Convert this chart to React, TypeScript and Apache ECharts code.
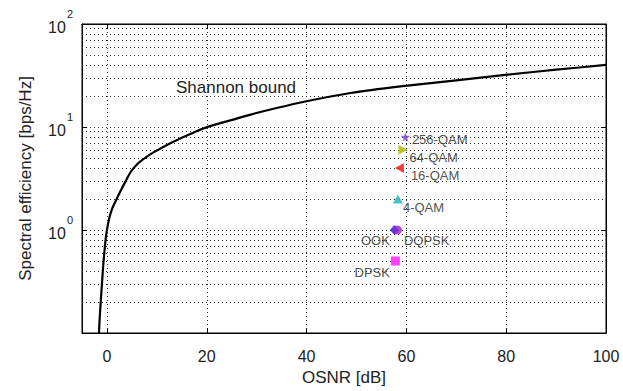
import React, { useEffect, useRef } from "react";
import * as echarts from "echarts";

// Shannon bound curve: OSNR [dB] vs spectral efficiency [bps/Hz]
const osnrDb = [-1.6, -1.45, -1.25, -1.0, -0.8, -0.6, -0.3, 0, 0.5, 1.1, 1.9, 2.8, 3.7, 4.8, 6.3, 7.8, 9.4, 11.1, 13, 15.1, 17.4, 19.8, 24, 28.8, 34, 40, 48.8, 58.8, 70, 79.8, 90, 100];
const spectralEff = [0.1, 0.14, 0.2, 0.3, 0.42, 0.55, 0.78, 1.0, 1.32, 1.64, 1.98, 2.43, 2.95, 3.68, 4.47, 5.08, 5.7, 6.32, 7.06, 7.91, 8.86, 9.87, 11.35, 13.2, 15.3, 17.8, 21.4, 24.8, 28.4, 32.1, 36, 40.1];

// Modulation formats, their required OSNR and spectral efficiency
const schemeNames = ["256-QAM", "64-QAM", "16-QAM", "4-QAM", "OOK", "DQPSK", "DPSK"];
const schemeOsnr = [59.8, 59.3, 58.6, 58.3, 57.6, 58.2, 57.8];
const schemeSe = [8, 6, 4, 2, 1, 1, 0.5];

// Minor log grid values
const minorGrid = [0.2, 0.3, 0.4, 0.5, 0.6, 0.7, 0.8, 0.9, 2, 3, 4, 5, 6, 7, 8, 9, 20, 30, 40, 50, 60, 70, 80, 90];

const TEXT = "#222222";
const FONT = "Liberation Sans, Arial, sans-serif";

const schemeStyle: Record<string, any> = {
  "256-QAM": {
    symbol: "path://M0,-10 L2.35,-3.24 9.51,-3.09 3.8,1.24 5.88,8.09 0,4 -5.88,8.09 -3.8,1.24 -9.51,-3.09 -2.35,-3.24Z",
    size: 9, color: "#7434dc", pos: "right", dist: 2, off: [0, 3],
  },
  "64-QAM": { symbol: "path://M0,0 L9,5 L0,10 Z", size: [9, 10], color: "#b5b500", pos: "right", dist: 2, off: [0, 8] },
  "16-QAM": { symbol: "path://M9,0 L0,5 L9,10 Z", size: [9, 10], color: "#ee1010", pos: "right", dist: 7, off: [0, 8] },
  "4-QAM": { symbol: "triangle", size: [10, 9], color: "#17b4b4", pos: "right", dist: 0, off: [0, 9] },
  OOK: { symbol: "diamond", size: [9, 10], color: "#1414e0", pos: "left", dist: 0, off: [0, 10] },
  DQPSK: { symbol: "circle", size: 9, color: "#9a20c8", pos: "right", dist: 2, off: [0, 10] },
  DPSK: { symbol: "rect", size: 9, color: "#ff12ff", pos: "left", dist: 1, off: [0, 11] },
};

const dotted = { type: [1, 3] as any, color: "#2a2a2a", width: 1 };

export default function App() {
  const ref = useRef<HTMLDivElement>(null);

  useEffect(() => {
    if (!ref.current) return;
    const chart = echarts.init(ref.current, null, { renderer: "svg" });

    const schemeSeries = schemeNames.map((name, i) => {
      const s = schemeStyle[name];
      return {
        type: "scatter",
        name,
        xAxisIndex: 0,
        yAxisIndex: 0,
        symbol: s.symbol,
        symbolSize: s.size,
        itemStyle: { color: s.color },
        z: 5 + i,
        data: [[schemeOsnr[i], schemeSe[i]]],
        label: {
          show: true,
          formatter: name,
          position: s.pos,
          distance: s.dist,
          offset: s.off,
          color: TEXT,
          fontSize: 13,
          fontFamily: FONT,
        },
      };
    });

    chart.setOption({
      animation: false,
      backgroundColor: "#ffffff",
      textStyle: { fontFamily: FONT },
      grid: {
        left: 82,
        right: 17,
        top: 24,
        bottom: 54,
        show: true,
        borderColor: "#000",
        borderWidth: 1,
        backgroundColor: "transparent",
      },
      xAxis: [
        {
          type: "value",
          min: -5,
          max: 100,
          splitNumber: 5,
          name: "OSNR [dB]",
          nameLocation: "middle",
          nameGap: 36,
          nameTextStyle: { color: TEXT, fontSize: 17, fontFamily: FONT },
          axisLine: { show: true, onZero: false, lineStyle: { color: "#000" } },
          axisTick: { show: true, inside: true, length: 5, lineStyle: { color: "#000" } },
          axisLabel: {
            color: TEXT,
            fontSize: 16,
            margin: 15,
            fontFamily: FONT,
            formatter: (v: number) => (v < 0 ? "" : String(v)),
          },
          splitLine: { show: true, lineStyle: dotted },
        },
        {
          type: "value",
          position: "top",
          min: -5,
          max: 100,
          splitNumber: 5,
          axisLine: { show: true, onZero: false, lineStyle: { color: "#000" } },
          axisTick: { show: true, inside: true, length: 5, lineStyle: { color: "#000" } },
          axisLabel: { show: false },
          splitLine: { show: false },
        },
      ],
      yAxis: [
        {
          type: "log",
          logBase: 10,
          min: 0.1,
          max: 100,
          name: "Spectral efficiency [bps/Hz]",
          nameLocation: "middle",
          nameGap: 48,
          nameTextStyle: { color: TEXT, fontSize: 17, fontFamily: FONT },
          axisLine: { show: true, onZero: false, lineStyle: { color: "#000" } },
          axisTick: { show: true, inside: true, length: 5, lineStyle: { color: "#000" } },
          axisLabel: {
            color: TEXT,
            margin: 9,
            fontFamily: FONT,
            formatter: (v: number) => {
              const e = Math.round(Math.log10(v));
              if (e < 0) return "";
              return "{b|10}{s|" + e + "}";
            },
            rich: {
              b: { fontSize: 16, color: TEXT, fontFamily: FONT, padding: [6, 0, 0, 0] },
              s: { fontSize: 11, color: TEXT, fontFamily: FONT, padding: [0, 0, 20, 1] },
            },
          },
          splitLine: { show: true, lineStyle: dotted },
        },
        {
          type: "log",
          logBase: 10,
          min: 0.1,
          max: 100,
          position: "right",
          axisLine: { show: true, onZero: false, lineStyle: { color: "#000" } },
          axisTick: { show: true, inside: true, length: 5, lineStyle: { color: "#000" } },
          axisLabel: { show: false },
          splitLine: { show: false },
        },
      ],
      graphic: [
        {
          type: "text",
          left: 176,
          top: 79,
          style: { text: "Shannon bound", fill: TEXT, fontSize: 17, fontFamily: FONT },
          z: 10,
        },
      ],
      series: [
        {
          type: "line",
          name: "Shannon bound",
          xAxisIndex: 0,
          yAxisIndex: 0,
          data: osnrDb.map((x, i) => [x, spectralEff[i]]),
          symbol: "none",
          smooth: 0.25,
          lineStyle: { color: "#000", width: 2.2, join: "round" },
          z: 4,
          markLine: {
            silent: true,
            symbol: "none",
            label: { show: false },
            lineStyle: dotted,
            data: minorGrid.map((v) => ({ yAxis: v })),
            z: 1,
          },
        },
        ...schemeSeries,
      ],
    });

    return () => chart.dispose();
  }, []);

  return (
    <div
      ref={ref}
      style={{ position: "fixed", left: 0, top: 0, width: 623, height: 391 }}
    />
  );
}
